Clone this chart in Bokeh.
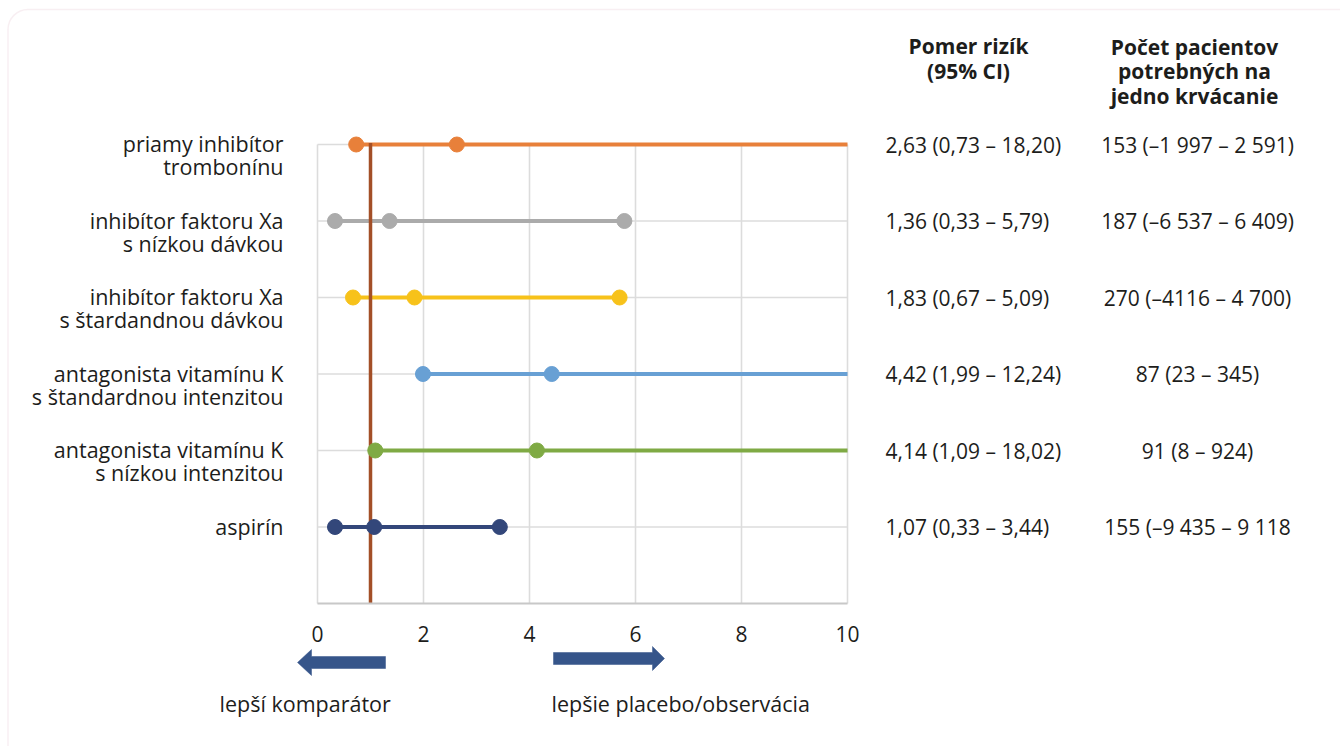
from bokeh.plotting import figure
from bokeh.models import Range1d, FixedTicker, LinearAxis, BoxAnnotation, ColumnDataSource
from bokeh.core.properties import value
from bokeh.embed import file_html
from bokeh.resources import INLINE

# ---------------- data ----------------
categories = [
    "priamy inhibítor\ntrombonínu",
    "inhibítor faktoru Xa\ns nízkou dávkou",
    "inhibítor faktoru Xa\ns štardandnou dávkou",
    "antagonista vitamínu K\ns štandardnou intenzitou",
    "antagonista vitamínu K\ns nízkou intenzitou",
    "aspirín",
]
rows = [6, 5, 4, 3, 2, 1]
risk_ratio = [2.63, 1.36, 1.83, 4.42, 4.14, 1.07]
ci_low = [0.73, 0.33, 0.67, 1.99, 1.09, 0.33]
ci_high = [18.20, 5.79, 5.70, 12.24, 18.02, 3.44]
colors = ["#E8803A", "#ABABAB", "#F7C21A", "#68A0D4", "#7FAA44", "#33477A"]
rr_text = [
    "2,63 (0,73 – 18,20)",
    "1,36 (0,33 – 5,79)",
    "1,83 (0,67 – 5,09)",
    "4,42 (1,99 – 12,24)",
    "4,14 (1,09 – 18,02)",
    "1,07 (0,33 – 3,44)",
]
nnh_text = [
    "153 (–1 997 – 2 591)",
    "187 (–6 537 – 6 409)",
    "270 (–4116 – 4 700)",
    "87 (23 – 345)",
    "91 (8 – 924)",
    "155 (–9 435 – 9 118",
]
x_ticks = [0, 2, 4, 6, 8, 10]
reference_value = 1
header_rr = ["Pomer rizík", "(95% CI)"]
header_nnh = ["Počet pacientov", "potrebných na", "jedno krvácanie"]
direction_labels = ["lepší komparátor", "lepšie placebo/observácia"]

# ---------------- layout / styles ----------------
W, H = 1340, 746
X0_PX, X10_PX = 317, 847      # where x=0 and x=10 sit on the page
Y0_PX, Y6_PX = 603, 144       # where y=0 and y=6 sit on the page
SX = (X10_PX - X0_PX) / 10.0
SY = (Y0_PX - Y6_PX) / 6.0

def px_x(px):
    return (px - X0_PX) / SX

def px_y(py):
    return (Y0_PX - py) / SY

FONT = value("Open Sans")
TXT = "#1d1d1b"
GRID = "#DCDCDC"
REF = "#A34F27"
ARROW = "#36558A"

p = figure(
    width=W, height=H,
    x_range=Range1d(px_x(0), px_x(W)), y_range=Range1d(px_y(H), px_y(0)),
    x_axis_location=None, y_axis_location=None,
    output_backend="svg", toolbar_location=None,
    min_border=0, min_border_left=0, min_border_right=0,
    min_border_top=0, min_border_bottom=0,
)
p.outline_line_color = None
p.background_fill_color = "white"
p.border_fill_color = "white"
p.grid.visible = False

# rounded frame of the figure box
p.add_layout(BoxAnnotation(left=px_x(7.5), right=px_x(W + 60), top=px_y(9), bottom=px_y(H + 60),
                           fill_alpha=0, line_color="#E9C9D4", line_width=1.5, border_radius=20))

x_lo, x_hi = min(x_ticks), max(x_ticks)
y_top = max(rows)

# grid lines within the plotting area
p.segment(x0=x_ticks, y0=[0] * len(x_ticks), x1=x_ticks, y1=[y_top] * len(x_ticks),
          line_color=GRID, line_width=1.6)
p.segment(x0=[x_lo] * len(rows), y0=rows, x1=[x_hi] * len(rows), y1=rows,
          line_color=GRID, line_width=1.6)

# x axis placed at y = 0
xa = LinearAxis(ticker=FixedTicker(ticks=x_ticks), fixed_location=0, bounds=(x_lo, x_hi))
xa.axis_line_color = "#C8C8C8"
xa.axis_line_width = 2
xa.major_tick_line_color = None
xa.minor_tick_line_color = None
xa.major_label_text_font = "Open Sans"
xa.major_label_text_font_size = "21px"
xa.major_label_text_color = TXT
xa.major_label_standoff = 16
p.add_layout(xa, "below")

# confidence interval lines (clipped at x = 10)
ci_hi_vis = [min(v, x_hi) for v in ci_high]
p.segment(x0=ci_low, y0=rows, x1=ci_hi_vis, y1=rows, line_color=colors, line_width=3.8)

# reference line at RR = 1
p.segment(x0=[reference_value], y0=[0], x1=[reference_value], y1=[y_top + 0.02],
          line_color=REF, line_width=3.5)

# points (only those inside the axis range are visible)
for xs in (ci_low, risk_ratio, ci_high):
    vis = [(x, y, c) for x, y, c in zip(xs, rows, colors) if x <= x_hi]
    p.scatter(x=[v[0] for v in vis], y=[v[1] for v in vis], size=15,
              fill_color=[v[2] for v in vis], line_color=[v[2] for v in vis])

# category labels (left), one text per line
lab = dict(x=[], y=[], text=[], yoff=[])
for r, cat in zip(rows, categories):
    for j, line in enumerate(cat.split("\n")):
        lab["x"].append(0)
        lab["y"].append(r)
        lab["text"].append(line)
        lab["yoff"].append(-1 + 23 * j)
p.text(x="x", y="y", text="text", y_offset="yoff", x_offset=-34, source=ColumnDataSource(lab),
       text_align="right", text_baseline="middle",
       text_font=FONT, text_font_size=value("21.5px"), text_color=TXT)

# table columns (right)
p.text(x=[x_hi] * len(rows), y=rows, text=rr_text, x_offset=38,
       text_align="left", text_baseline="middle",
       text_font=FONT, text_font_size=value("21px"), text_color=TXT)
p.text(x=[x_hi] * len(rows), y=rows, text=nnh_text, x_offset=350,
       text_align="center", text_baseline="middle",
       text_font=FONT, text_font_size=value("21px"), text_color=TXT)

p.text(x=[x_hi] * len(header_rr), y=[y_top] * len(header_rr), text=header_rr, x_offset=121,
       y_offset=[-98.5 + 24.5 * j for j in range(len(header_rr))],
       text_align="center", text_baseline="middle",
       text_font=FONT, text_font_size=value("21px"), text_font_style="bold", text_color=TXT)
p.text(x=[x_hi] * len(header_nnh), y=[y_top] * len(header_nnh), text=header_nnh, x_offset=347,
       y_offset=[-98 + 24.5 * j for j in range(len(header_nnh))],
       text_align="center", text_baseline="middle",
       text_font=FONT, text_font_size=value("21px"), text_font_style="bold", text_color=TXT)

# direction arrows below the axis
def arrow_shape(tail, tip, yc, body=12, head=25, head_len=14):
    d = 1 if tip > tail else -1
    hb = tip - d * head_len
    pts = [(tail, yc - body / 2), (hb, yc - body / 2), (hb, yc - head / 2), (tip, yc),
           (hb, yc + head / 2), (hb, yc + body / 2), (tail, yc + body / 2)]
    return [px_x(a) for a, _ in pts], [px_y(b) for _, b in pts]

ax1, ay1 = arrow_shape(385, 297, 662, head=26, head_len=14)
ax2, ay2 = arrow_shape(553, 664, 658, head=24, head_len=12)
p.patches(xs=[ax1, ax2], ys=[ay1, ay2], fill_color=ARROW, line_color=ARROW, line_width=0.5)

p.text(x=[0, 0], y=[0, 0], text=direction_labels, x_offset=[-98, 234], y_offset=100,
       text_align="left", text_baseline="middle",
       text_font=FONT, text_font_size=value("21.5px"), text_color=TXT)

open("out.html", "w").write(file_html(p, INLINE))
